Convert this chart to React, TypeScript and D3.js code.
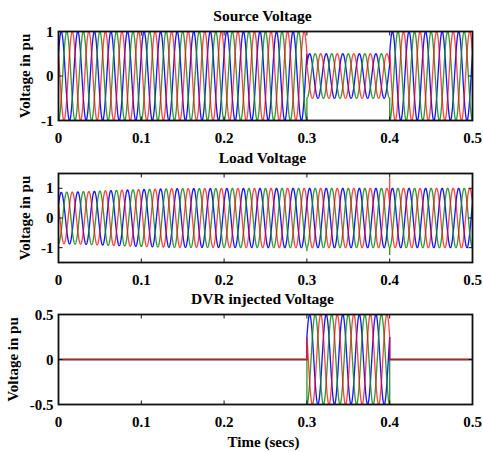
import React from 'react'
import * as d3 from 'd3'

// waveform parameters
const FREQ = 50
const T_END = 0.5
const STEP = 0.0001
const PHASE_COLORS = ['#0000ff', '#138a13', '#ff0000']
const PHASE_OFFSETS_DEG = [30, -90, 150]
const PHASE_OPACITY = [0.9, 0.85, 0.72]

const X_TICKS = [0, 0.1, 0.2, 0.3, 0.4, 0.5]

// amplitude by time segment
const SOURCE_SEGMENTS = [
  { t0: 0, t1: 0.3, amp: 1 },
  { t0: 0.3, t1: 0.4, amp: 0.5 },
  { t0: 0.4, t1: 0.5, amp: 1 },
]
const DVR_SEGMENTS = [
  { t0: 0, t1: 0.3, amp: 0 },
  { t0: 0.3, t1: 0.4, amp: 0.5 },
  { t0: 0.4, t1: 0.5, amp: 0 },
]
// load voltage envelope (time, peak)
const LOAD_ENV_T = [0, 0.035, 0.07, 0.1, 0.14, 0.3, 0.5]
const LOAD_ENV_A = [0.86, 0.89, 0.93, 0.96, 0.99, 1.0, 1.0]
// switching transients on the load voltage
const LOAD_SPIKES = [
  { t: 0.3, phase: 1, v: -1.12 },
  { t: 0.4, phase: 2, v: 1.36 },
  { t: 0.4, phase: 1, v: -1.25 },
]

const SOURCE_Y = [-1, 1]
const LOAD_Y = [-1.5, 1.5]
const DVR_Y = [-0.5, 0.5]
const SOURCE_Y_TICKS = [-1, 0, 1]
const LOAD_Y_TICKS = [-1, 0, 1]
const DVR_Y_TICKS = [-0.5, 0, 0.5]

type Pt = [number, number]

function wave(phase: number, t: number, amp: number) {
  const w = 2 * Math.PI * FREQ
  return amp * Math.sin(w * t + (PHASE_OFFSETS_DEG[phase] * Math.PI) / 180)
}

function segmentSeries(segs: typeof SOURCE_SEGMENTS, phase: number): Pt[] {
  const out: Pt[] = []
  segs.forEach(s => {
    const n = Math.round((s.t1 - s.t0) / STEP)
    for (let i = 0; i <= n; i++) {
      const t = s.t0 + i * STEP
      out.push([t, wave(phase, t, s.amp)])
    }
  })
  return out
}

function loadSeries(phase: number): Pt[] {
  const env = d3.scaleLinear().domain(LOAD_ENV_T).range(LOAD_ENV_A).clamp(true)
  const out: Pt[] = []
  const n = Math.round(T_END / STEP)
  for (let i = 0; i <= n; i++) {
    const t = i * STEP
    const spike = LOAD_SPIKES.find(s => s.phase === phase && Math.abs(s.t - t) < STEP / 2)
    out.push([t, spike ? spike.v : wave(phase, t, env(t))])
  }
  return out
}

const W = 483
const H = 452
const X0 = 58.5
const X1 = 472.5
const FONT = '"Liberation Serif", "Times New Roman", serif'

function Panel({ id, top, bottom, title, yDomain, yTicks, series, ylabelX }: {
  id: string; top: number; bottom: number; title: string; yDomain: number[]; yTicks: number[]; series: Pt[][]; ylabelX: number
}) {
  const x = d3.scaleLinear().domain([0, T_END]).range([X0, X1])
  const y = d3.scaleLinear().domain(yDomain).range([bottom, top])
  const line = d3.line<Pt>().x(d => x(d[0])).y(d => y(d[1]))
  const tl = 4
  return (
    <g>
      <defs>
        <clipPath id={id}>
          <rect x={X0} y={top} width={X1 - X0} height={bottom - top} />
        </clipPath>
      </defs>
      <text x={(X0 + X1) / 2 - 3} y={top - 11} textAnchor="middle" fontFamily={FONT} fontWeight="bold" fontSize={15.5}>{title}</text>
      <g clipPath={`url(#${id})`}>
        {series.map((s, i) => (
          <path key={i} d={line(s) || ''} fill="none" stroke={PHASE_COLORS[i]} strokeOpacity={PHASE_OPACITY[i]} strokeWidth={1.35} />
        ))}
      </g>
      <rect x={X0} y={top} width={X1 - X0} height={bottom - top} fill="none" stroke="#111" strokeWidth={1.8} />
      {X_TICKS.map(t => (
        <g key={t}>
          <line x1={x(t)} x2={x(t)} y1={bottom} y2={bottom - tl} stroke="#111" />
          <line x1={x(t)} x2={x(t)} y1={top} y2={top + tl} stroke="#111" />
          <text x={x(t)} y={bottom + 22} textAnchor="middle" fontFamily={FONT} fontWeight="bold" fontSize={15}>{String(t)}</text>
        </g>
      ))}
      {yTicks.map(t => (
        <g key={t}>
          <line x1={X0} x2={X0 + tl} y1={y(t)} y2={y(t)} stroke="#111" />
          <line x1={X1} x2={X1 - tl} y1={y(t)} y2={y(t)} stroke="#111" />
          <text x={X0 - 5} y={y(t) + 5} textAnchor="end" fontFamily={FONT} fontWeight="bold" fontSize={15}>{String(t)}</text>
        </g>
      ))}
      <text transform={`translate(${ylabelX},${(top + bottom) / 2}) rotate(-90)`} textAnchor="middle" fontFamily={FONT} fontWeight="bold" fontSize={15}>Voltage in pu</text>
    </g>
  )
}

export default function App() {
  const phases = [0, 1, 2]
  const source = phases.map(p => segmentSeries(SOURCE_SEGMENTS, p))
  const load = phases.map(p => loadSeries(p))
  const dvr = phases.map(p => segmentSeries(DVR_SEGMENTS, p))
  return (
    <svg width={W} height={H} style={{ position: 'absolute', left: 0, top: 0, background: '#fff' }}>
      <Panel id="c1" top={31.5} bottom={120.5} title="Source Voltage" yDomain={SOURCE_Y} yTicks={SOURCE_Y_TICKS} series={source} ylabelX={30} />
      <Panel id="c2" top={173.5} bottom={262.5} title="Load Voltage" yDomain={LOAD_Y} yTicks={LOAD_Y_TICKS} series={load} ylabelX={30} />
      <Panel id="c3" top={314.5} bottom={404.5} title="DVR injected Voltage" yDomain={DVR_Y} yTicks={DVR_Y_TICKS} series={dvr} ylabelX={18} />
      <text x={(X0 + X1) / 2 - 2} y={447} textAnchor="middle" fontFamily={FONT} fontWeight="bold" fontSize={15}>Time (secs)</text>
    </svg>
  )
}
